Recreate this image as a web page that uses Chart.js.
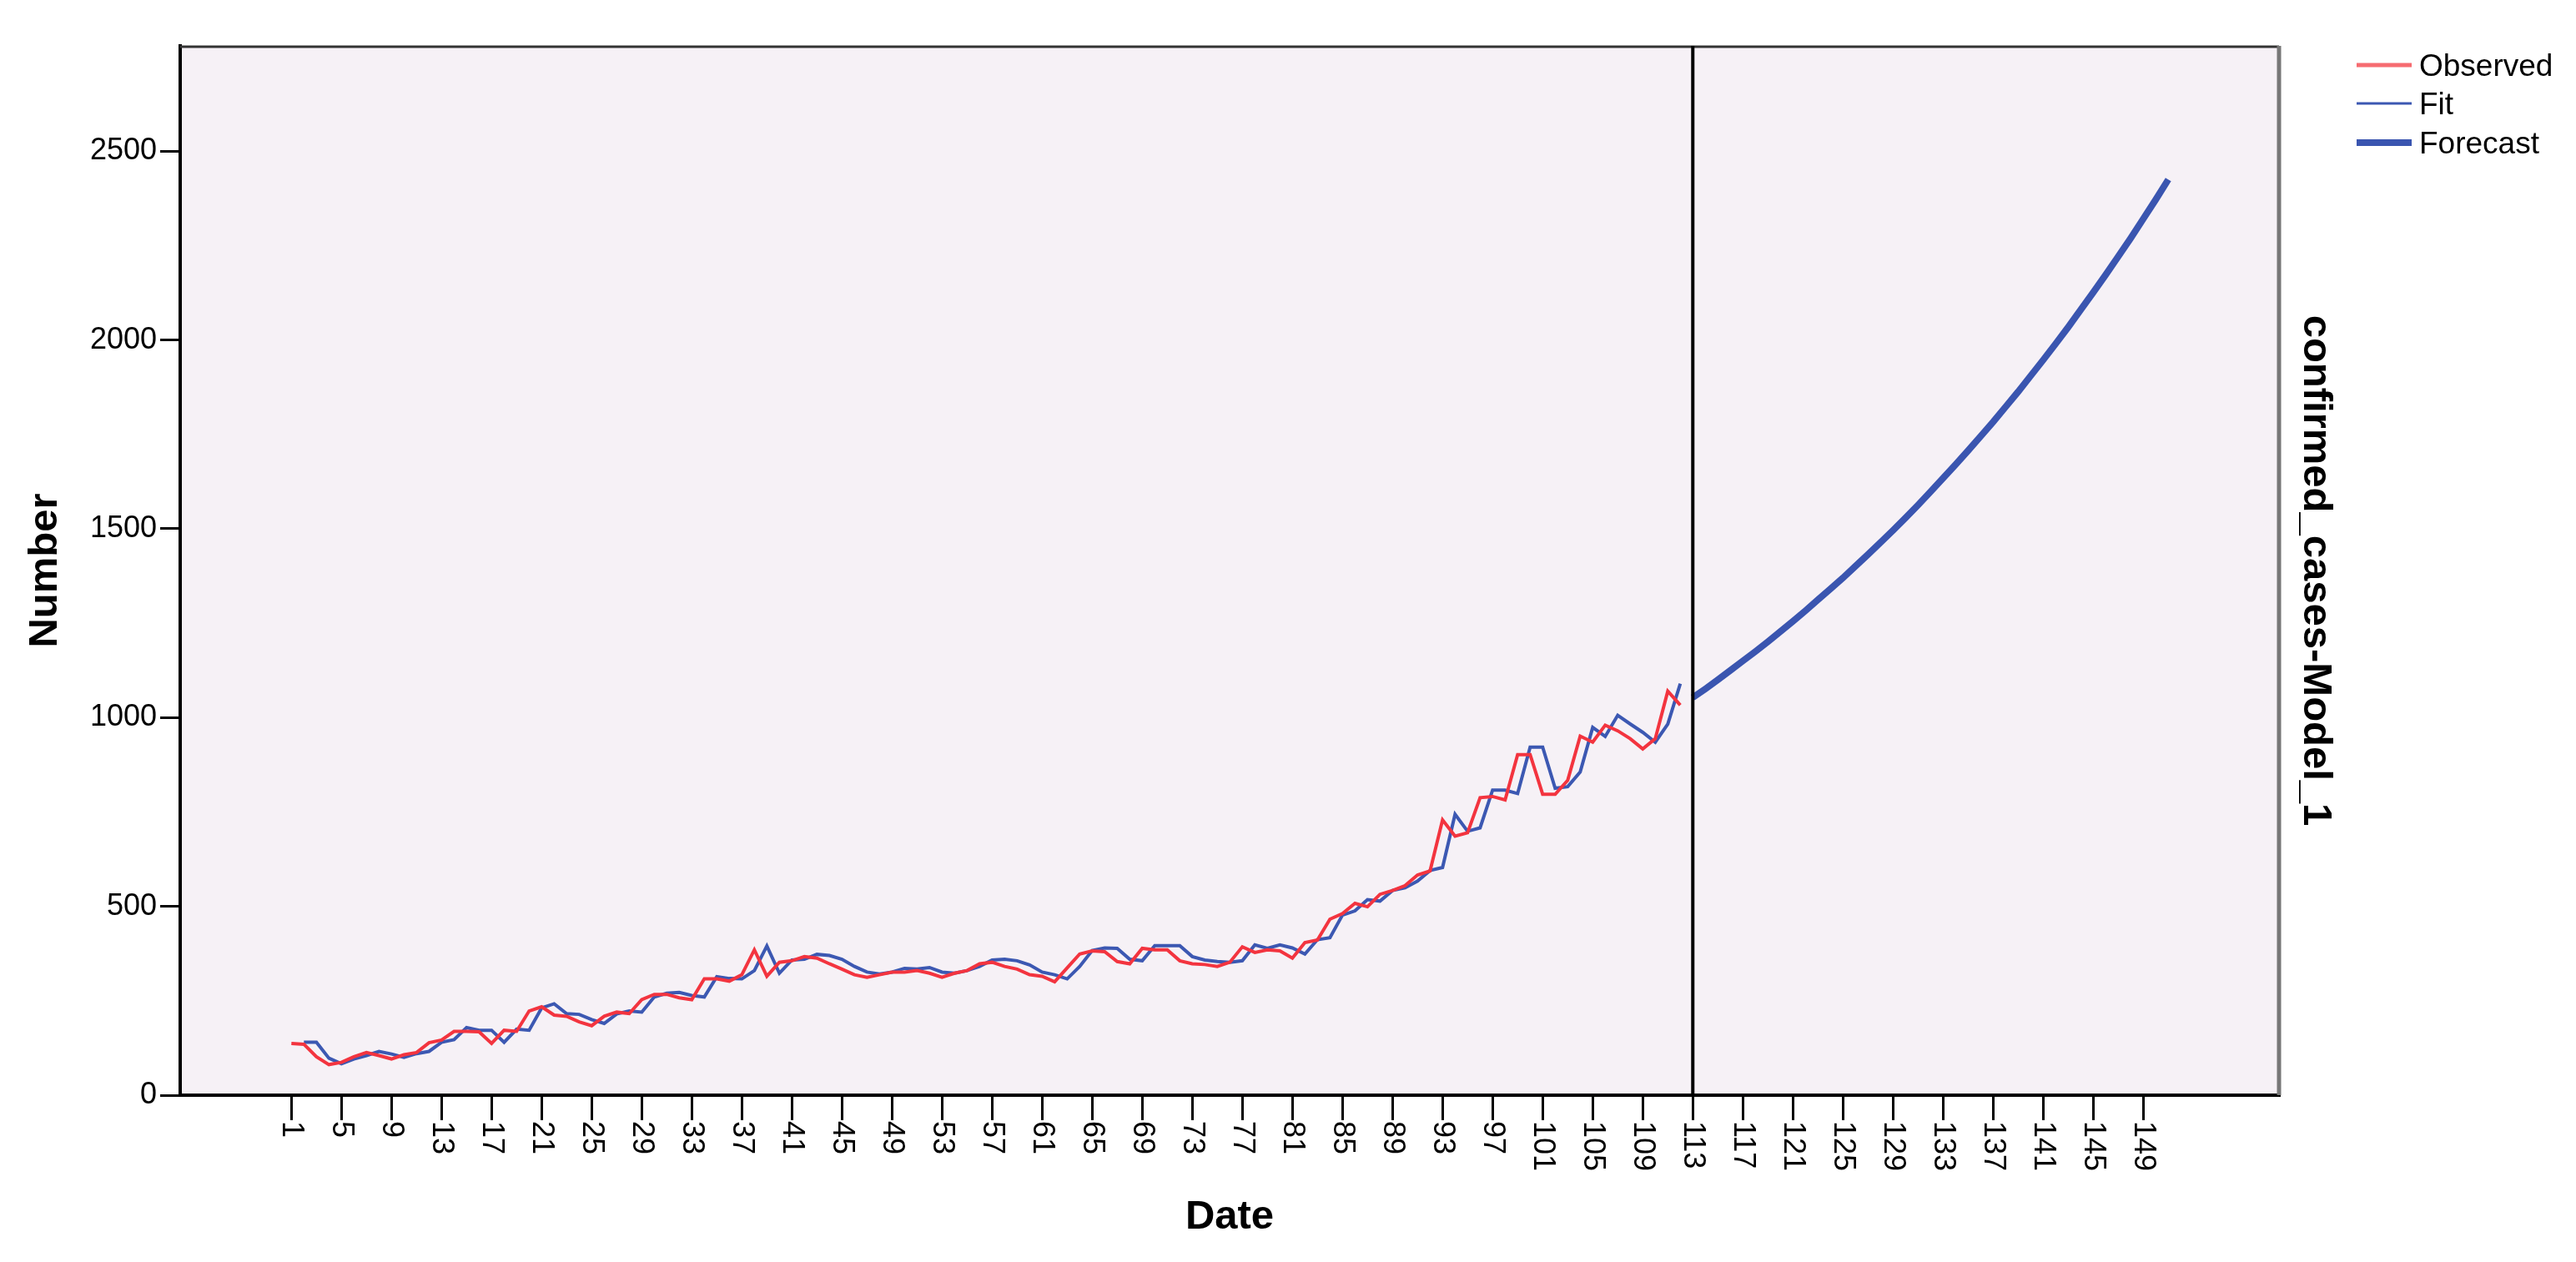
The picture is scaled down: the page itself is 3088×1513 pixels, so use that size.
<!DOCTYPE html>
<html>
<head>
<meta charset="utf-8">
<script src="https://cdn.jsdelivr.net/npm/chart.js@4.4.1/dist/chart.umd.min.js"></script>
<style>
  html, body { margin: 0; padding: 0; background: #fff; }
</style>
</head>
<body>
<canvas id="forecastChart" width="3088" height="1513"></canvas>
<script>
// Day index (the "Date" axis)
const dates = [
  1, 2, 3, 4, 5, 6, 7, 8, 9, 10, 11, 12, 13, 14, 15, 16, 17, 18, 19, 20,
  21, 22, 23, 24, 25, 26, 27, 28, 29, 30, 31, 32, 33, 34, 35, 36, 37, 38, 39, 40,
  41, 42, 43, 44, 45, 46, 47, 48, 49, 50, 51, 52, 53, 54, 55, 56, 57, 58, 59, 60,
  61, 62, 63, 64, 65, 66, 67, 68, 69, 70, 71, 72, 73, 74, 75, 76, 77, 78, 79, 80,
  81, 82, 83, 84, 85, 86, 87, 88, 89, 90, 91, 92, 93, 94, 95, 96, 97, 98, 99, 100,
  101, 102, 103, 104, 105, 106, 107, 108, 109, 110, 111, 112, 113, 114, 115, 116, 117, 118, 119, 120,
  121, 122, 123, 124, 125, 126, 127, 128, 129, 130, 131, 132, 133, 134, 135, 136, 137, 138, 139, 140,
  141, 142, 143, 144, 145, 146, 147, 148, 149, 150, 151
];

// Observed confirmed cases, days 1..112
const observed = [
  137, 135, 102, 81, 87, 102, 113, 105, 96, 107,
  113, 139, 146, 169, 169, 168, 137, 172, 169, 223,
  234, 212, 209, 194, 184, 209, 220, 216, 253, 267,
  267, 258, 253, 308, 308, 302, 319, 385, 315, 352,
  356, 367, 363, 348, 334, 319, 312, 319, 326, 326,
  330, 323, 312, 323, 330, 348, 352, 341, 334, 319,
  315, 300, 337, 374, 382, 380, 354, 348, 389, 385,
  385, 356, 348, 346, 341, 352, 393, 378, 385, 382,
  363, 404, 411, 466, 481, 508, 499, 532, 542, 555,
  583, 594, 729, 686, 695, 788, 791, 782, 902, 902,
  797, 797, 834, 951, 935, 980, 965, 944, 917, 944,
  1070, 1033
];

// Model fit, days 2..112
const fitted = [
  140, 140, 98, 83, 96, 105, 116, 109, 100,
  110, 116, 140, 147, 179, 172, 172, 140, 175, 172,
  231, 242, 216, 214, 200, 190, 215, 223, 220, 260,
  270, 272, 264, 260, 314, 309, 308, 330, 395, 323,
  358, 360, 373, 370, 360, 341, 326, 321, 326, 336,
  334, 338, 326, 323, 330, 341, 358, 360, 356, 345,
  326, 319, 308, 341, 383, 390, 389, 360, 356, 396,
  396, 396, 367, 358, 354, 352, 356, 398, 389, 398,
  390, 374, 412, 417, 477, 488, 518, 514, 542, 549,
  567, 595, 603, 744, 699, 708, 808, 808, 799, 922,
  922, 813, 817, 856, 974, 950, 1006, 983, 961, 935,
  983, 1090
];

// Forecast, days 113..151
const forecast = [
  1053, 1076, 1100, 1125, 1150, 1175, 1201, 1228, 1255, 1283,
  1312, 1341, 1370, 1401, 1432, 1464, 1496, 1529, 1563, 1598,
  1634, 1670, 1707, 1745, 1783, 1823, 1863, 1905, 1947, 1990,
  2034, 2080, 2126, 2173, 2221, 2270, 2321, 2372, 2425
];

const xTickLabels = [1, 5, 9, 13, 17, 21, 25, 29, 33, 37, 41, 45, 49, 53, 57, 61, 65, 69, 73,
  77, 81, 85, 89, 93, 97, 101, 105, 109, 113, 117, 121, 125, 129, 133, 137, 141, 145, 149];
const yTickValues = [0, 500, 1000, 1500, 2000, 2500];
const forecastOrigin = 113;

const FONT = '"Liberation Sans", Arial, sans-serif';

// build point lists from the arrays
const obsPoints = observed.map((v, i) => ({ x: dates[i], y: v }));
const fitPoints = fitted.map((v, i) => ({ x: dates[i + 1], y: v }));
const fcPoints = forecast.map((v, i) => ({ x: dates[i + 112], y: v }));

// light plot background
const plotBackground = {
  id: 'plotBackground',
  beforeDraw(chart) {
    const { ctx, chartArea: a } = chart;
    ctx.save();
    ctx.fillStyle = '#f6f1f6';
    ctx.fillRect(a.left, a.top, a.right - a.left, a.bottom - a.top);
    ctx.restore();
  }
};

// top/right frame and the forecast start line
const frameLines = {
  id: 'frameLines',
  afterDatasetsDraw(chart) {
    const { ctx, chartArea: a } = chart;
    const xs = chart.scales.x;
    ctx.save();
    ctx.strokeStyle = '#333';
    ctx.lineWidth = 3;
    ctx.beginPath();
    ctx.moveTo(a.left, a.top + 1);
    ctx.lineTo(a.right, a.top + 1);
    ctx.stroke();
    ctx.strokeStyle = '#777';
    ctx.lineWidth = 5;
    ctx.beginPath();
    ctx.moveTo(a.right, a.top);
    ctx.lineTo(a.right, a.bottom);
    ctx.stroke();
    const px = xs.getPixelForValue(forecastOrigin);
    ctx.strokeStyle = '#000';
    ctx.lineWidth = 4;
    ctx.beginPath();
    ctx.moveTo(px, a.top);
    ctx.lineTo(px, a.bottom);
    ctx.stroke();
    ctx.restore();
  }
};

// x tick labels, rotated to read top to bottom
const rotatedXLabels = {
  id: 'rotatedXLabels',
  afterDraw(chart) {
    const { ctx } = chart;
    const xs = chart.scales.x;
    ctx.save();
    ctx.font = '36px ' + FONT;
    ctx.fillStyle = '#000';
    ctx.textAlign = 'left';
    ctx.textBaseline = 'middle';
    xTickLabels.forEach(v => {
      ctx.save();
      ctx.translate(xs.getPixelForValue(v), xs.top + 31);
      ctx.rotate(Math.PI / 2);
      ctx.fillText(String(v), 0, 0);
      ctx.restore();
    });
    ctx.restore();
  }
};

// legend in the top right corner
const sideLegend = {
  id: 'sideLegend',
  afterDraw(chart) {
    const { ctx } = chart;
    const rows = [78, 124, 171];
    const widths = [5, 3, 8];
    ctx.save();
    ctx.font = '37px ' + FONT;
    ctx.textAlign = 'left';
    ctx.textBaseline = 'middle';
    chart.data.datasets.forEach((ds, i) => {
      ctx.strokeStyle = i === 0 ? '#f66b70' : ds.borderColor;
      ctx.lineWidth = widths[i];
      ctx.beginPath();
      ctx.moveTo(2825, rows[i]);
      ctx.lineTo(2891, rows[i]);
      ctx.stroke();
      ctx.fillStyle = '#000';
      ctx.fillText(ds.label, 2900, rows[i] + 3);
    });
    ctx.restore();
  }
};

new Chart(document.getElementById('forecastChart'), {
  type: 'line',
  data: {
    datasets: [
      { label: 'Observed', data: obsPoints, borderColor: '#f3343f', borderWidth: 4, pointRadius: 0, tension: 0 },
      { label: 'Fit', data: fitPoints, borderColor: '#3c58b2', borderWidth: 4, pointRadius: 0, tension: 0 },
      { label: 'Forecast', data: fcPoints, borderColor: '#3a55b0', borderWidth: 8, pointRadius: 0, tension: 0 }
    ]
  },
  options: {
    responsive: false,
    animation: false,
    devicePixelRatio: 1,
    layout: { padding: { left: 0, top: 55, right: 268, bottom: 0 } },
    plugins: { legend: { display: false }, tooltip: { enabled: false } },
    scales: {
      x: {
        type: 'linear',
        min: -7.887,
        max: 159.85,
        afterBuildTicks: s => { s.ticks = xTickLabels.map(v => ({ value: v })); },
        afterFit: s => { s.height = 200; },
        border: { color: '#000', width: 4 },
        grid: { drawOnChartArea: false, drawTicks: true, tickLength: 30, color: '#000', lineWidth: 3 },
        ticks: { display: false },
        title: { display: true, text: 'Date', color: '#000', font: { family: FONT, size: 49, weight: 'bold' }, padding: { top: 0, bottom: 24 } }
      },
      y: {
        type: 'linear',
        position: 'left',
        min: 0,
        max: 2779,
        afterBuildTicks: s => { s.ticks = yTickValues.map(v => ({ value: v })); },
        afterFit: s => { s.width = 216; },
        border: { color: '#000', width: 4 },
        grid: { drawOnChartArea: false, drawTicks: true, tickLength: 24, color: '#000', lineWidth: 3 },
        ticks: { color: '#000', padding: 4, font: { family: FONT, size: 36 }, callback: v => String(v) },
        title: { display: true, text: 'Number', color: '#000', font: { family: FONT, size: 49, weight: 'bold' }, padding: { top: 25, bottom: 0 } }
      },
      y2: {
        type: 'linear',
        position: 'right',
        min: 0,
        max: 2779,
        afterFit: s => { s.width = 88; },
        border: { display: false },
        grid: { display: false },
        ticks: { display: false },
        title: { display: true, text: 'confirmed_cases-Model_1', color: '#000', font: { family: FONT, size: 49, weight: 'bold' }, padding: { top: 15, bottom: 0 } }
      }
    }
  },
  plugins: [plotBackground, frameLines, rotatedXLabels, sideLegend]
});
</script>
</body>
</html>
